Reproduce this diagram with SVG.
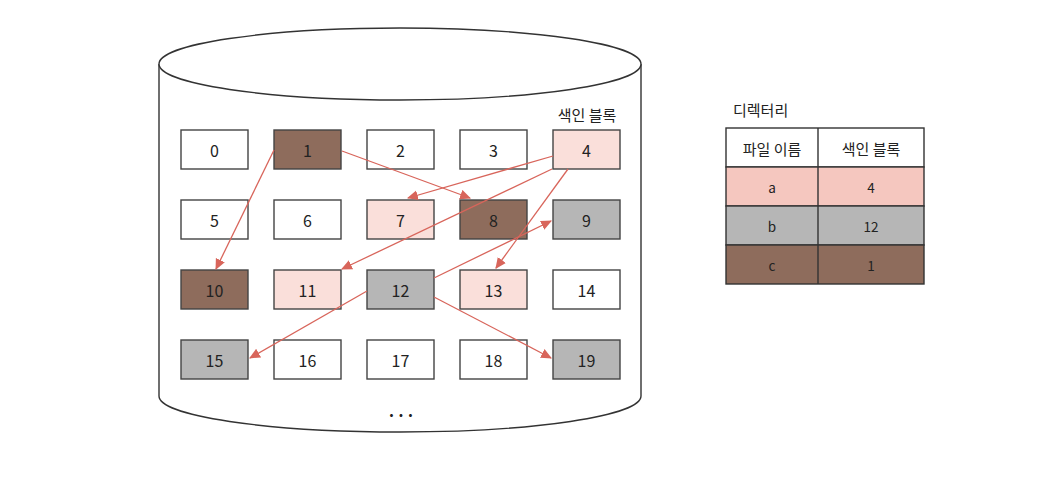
<svg xmlns="http://www.w3.org/2000/svg" width="1044" height="498" viewBox="0 0 1044 498">
<defs>
<style>
.cyl{fill:#fff;stroke:#333;stroke-width:1.4}
.b{stroke:#444;stroke-width:1.4}
.w{fill:#fff}
.p{fill:#FADFDA}
.d{fill:#8E6C5C}
.g{fill:#B6B6B6}
.t{font-family:"Noto Sans CJK KR","Noto Sans",sans-serif;font-size:16px;fill:#222;text-anchor:middle;dominant-baseline:central}
.lbl{font-family:"Noto Sans CJK KR","Noto Sans",sans-serif;font-size:15px;fill:#222}
.a{stroke:#D8655B;stroke-width:1.3;fill:none;marker-end:url(#ah)}
.tb{stroke:#333;stroke-width:1.4}
.s{font-size:13.5px}
.k{font-size:15px}
</style>
<marker id="ah" viewBox="0 0 10 10" refX="9" refY="5" markerWidth="11" markerHeight="11" markerUnits="userSpaceOnUse" orient="auto">
<path d="M0,0.5 L10,5 L0,9.5 Z" fill="#D8655B"/>
</marker>
</defs>
<rect width="1044" height="498" fill="#fff"/>
<g id="cylinder">
<path class="cyl" d="M159,64 L159,396 A241,36 0 0 0 641,396 L641,64"/>
<ellipse class="cyl" cx="400" cy="64" rx="241" ry="36"/>
<text class="t k" x="587" y="114">색인 블록</text>
<text class="t" x="401" y="414" style="font-weight:bold">···</text>
</g>
<g id="blocks">
<g id="b0"><rect class="b w" x="181" y="130" width="67" height="39"/><text class="t" x="214.5" y="149.5">0</text></g>
<g id="b1"><rect class="b d" x="274" y="130" width="67" height="39"/><text class="t" x="307.5" y="149.5">1</text></g>
<g id="b2"><rect class="b w" x="367" y="130" width="67" height="39"/><text class="t" x="400.5" y="149.5">2</text></g>
<g id="b3"><rect class="b w" x="460" y="130" width="67" height="39"/><text class="t" x="493.5" y="149.5">3</text></g>
<g id="b4"><rect class="b p" x="553" y="130" width="67" height="39"/><text class="t" x="586.5" y="149.5">4</text></g>
<g id="b5"><rect class="b w" x="181" y="200" width="67" height="39"/><text class="t" x="214.5" y="219.5">5</text></g>
<g id="b6"><rect class="b w" x="274" y="200" width="67" height="39"/><text class="t" x="307.5" y="219.5">6</text></g>
<g id="b7"><rect class="b p" x="367" y="200" width="67" height="39"/><text class="t" x="400.5" y="219.5">7</text></g>
<g id="b8"><rect class="b d" x="460" y="200" width="67" height="39"/><text class="t" x="493.5" y="219.5">8</text></g>
<g id="b9"><rect class="b g" x="553" y="200" width="67" height="39"/><text class="t" x="586.5" y="219.5">9</text></g>
<g id="b10"><rect class="b d" x="181" y="270" width="67" height="39"/><text class="t" x="214.5" y="289.5">10</text></g>
<g id="b11"><rect class="b p" x="274" y="270" width="67" height="39"/><text class="t" x="307.5" y="289.5">11</text></g>
<g id="b12"><rect class="b g" x="367" y="270" width="67" height="39"/><text class="t" x="400.5" y="289.5">12</text></g>
<g id="b13"><rect class="b p" x="460" y="270" width="67" height="39"/><text class="t" x="493.5" y="289.5">13</text></g>
<g id="b14"><rect class="b w" x="553" y="270" width="67" height="39"/><text class="t" x="586.5" y="289.5">14</text></g>
<g id="b15"><rect class="b g" x="181" y="340" width="67" height="39"/><text class="t" x="214.5" y="359.5">15</text></g>
<g id="b16"><rect class="b w" x="274" y="340" width="67" height="39"/><text class="t" x="307.5" y="359.5">16</text></g>
<g id="b17"><rect class="b w" x="367" y="340" width="67" height="39"/><text class="t" x="400.5" y="359.5">17</text></g>
<g id="b18"><rect class="b w" x="460" y="340" width="67" height="39"/><text class="t" x="493.5" y="359.5">18</text></g>
<g id="b19"><rect class="b g" x="553" y="340" width="67" height="39"/><text class="t" x="586.5" y="359.5">19</text></g>
</g>
<g id="connectors">
<line class="a" x1="274" y1="150" x2="216" y2="269"/>
<line class="a" x1="342" y1="151" x2="470" y2="198"/>
<line class="a" x1="553" y1="156" x2="408" y2="198"/>
<line class="a" x1="552" y1="169" x2="342" y2="269"/>
<line class="a" x1="568" y1="169" x2="496" y2="268"/>
<line class="a" x1="434" y1="278" x2="551" y2="221"/>
<line class="a" x1="367" y1="291" x2="250" y2="358"/>
<line class="a" x1="434" y1="297" x2="551" y2="358"/>
</g>
<g id="directory">
<text class="lbl" x="733" y="116">디렉터리</text>
<rect class="tb" x="726" y="128" width="198" height="39" fill="#fff"/>
<rect class="tb" x="726" y="167" width="198" height="39" fill="#F5C7BF"/>
<rect class="tb" x="726" y="206" width="198" height="39" fill="#B6B6B6"/>
<rect class="tb" x="726" y="245" width="198" height="39" fill="#8E6C5C"/>
<line class="tb" x1="818" y1="128" x2="818" y2="284"/>
<text class="t k" x="772" y="148">파일 이름</text>
<text class="t k" x="871" y="148">색인 블록</text>
<text class="t s" x="772" y="187">a</text>
<text class="t s" x="871" y="187">4</text>
<text class="t s" x="772" y="226">b</text>
<text class="t s" x="871" y="226">12</text>
<text class="t s" x="772" y="265">c</text>
<text class="t s" x="871" y="265">1</text>
</g>
</svg>
